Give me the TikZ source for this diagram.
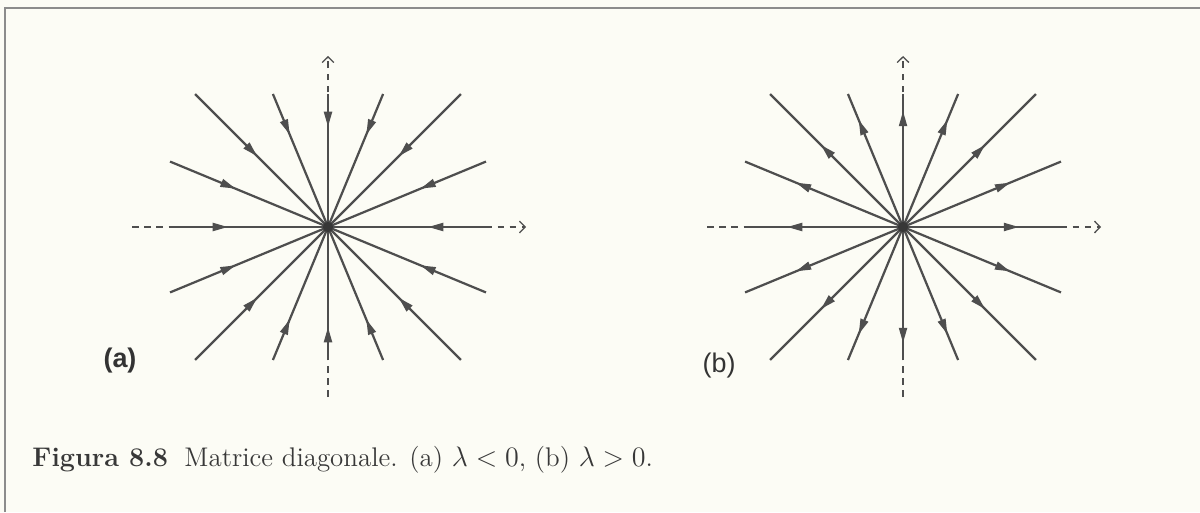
\documentclass[tikz,border=0pt]{standalone}
\usepackage{fontspec}
\newfontfamily\labelfont{Liberation Sans}
\usepackage{tikz}
\usetikzlibrary{positioning, arrows.meta, calc, decorations.markings}
\usepackage{xcolor}
\definecolor{raygray}{HTML}{4E4E4E}
\definecolor{framegray}{HTML}{8C8C8C}
\definecolor{paper}{HTML}{FCFCF5}

\begin{document}
\begin{tikzpicture}[x=0.015cm, y=-0.015cm,
  ray/.style={draw=raygray, line width=0.95pt},
  sink/.style={ray, postaction={decorate}, decoration={markings,
    mark=at position 42.7pt with {\arrowreversed{Triangle[length=6.5pt, width=3.4pt]}}}},
  source/.style={ray, postaction={decorate}, decoration={markings,
    mark=at position 49.5pt with {\arrow{Triangle[length=6.5pt, width=3.4pt]}}}},
  axisline/.style={draw=raygray, line width=0.55pt, dash pattern=on 2.8pt off 2.4pt,
    -{Straight Barb[length=2.4pt, width=5pt]}},
  fixpoint/.style={circle, fill=raygray!70!black, inner sep=0pt, minimum size=4.4pt},
  tag/.style={font=\labelfont\fontsize{11.5}{13}\selectfont, text=black!80}]
\fill[paper] (0,0) rectangle (1200,512);
\useasboundingbox (0,0) rectangle (1200,512);
\draw[framegray, line width=0.65pt] (5,512) -- (5,8) -- (1200,8);

% centres of the two portraits
\coordinate (ca) at (328,227);
\coordinate[right=8.625cm of ca] (cb);

% dashed axes
\foreach \c in {ca,cb} {
  \coordinate (\c-w) at ($(\c)+(-196,0)$);
  \coordinate (\c-e) at ($(\c)+(198,0)$);
  \coordinate (\c-s) at ($(\c)+(0,170)$);
  \coordinate (\c-n) at ($(\c)+(0,-171)$);
  \draw[axisline] (\c-w) -- (\c-e);
  \draw[axisline] (\c-s) -- (\c-n);
}

% trajectories: (a) stable star, (b) unstable star
\foreach \a/\r [count=\i] in {0/158,22.5/171,45/188,67.5/144,90/133,112.5/144,135/188,157.5/171,
    180/158,202.5/171,225/188,247.5/144,270/133,292.5/144,315/188,337.5/171} {
  \coordinate (ea\i) at ($(ca)+(\a:\r)$);
  \coordinate (eb\i) at ($(cb)+(\a:\r)$);
  \draw[sink] (ca) -- (ea\i);
  \draw[source] (cb) -- (eb\i);
}
\node[fixpoint] (ca-dot) at (ca) {};
\node[fixpoint] (cb-dot) at (cb) {};

\node[tag, font=\labelfont\bfseries\fontsize{11.5}{13}\selectfont] (laba) at (120,361) {(a)};
\node[tag] (labb) at (719,366) {(b)};

\node[anchor=base west, inner sep=0pt, text=black!78, font=\fontsize{11.5}{14}\selectfont] (caption) at (32,466)
  {\textbf{Figura 8.8}\hspace{7pt}Matrice diagonale. (a) $\lambda<0$, (b) $\lambda>0$.};
\end{tikzpicture}
\end{document}
